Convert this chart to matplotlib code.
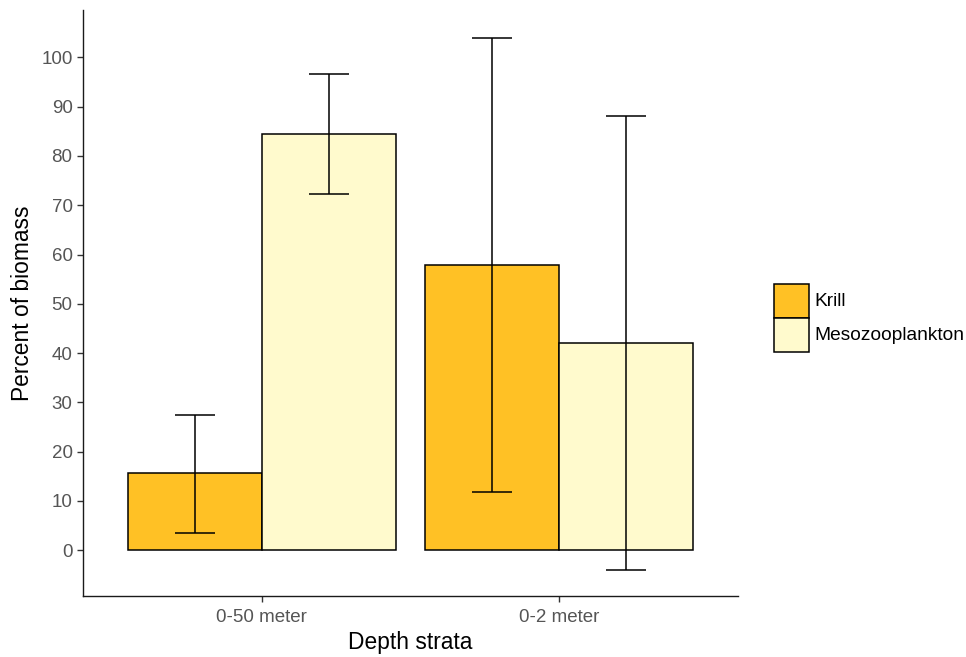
import matplotlib
matplotlib.use("Agg")
import matplotlib.pyplot as plt
from matplotlib.patches import Patch
import numpy as np

plt.rcParams["font.family"] = ["Liberation Sans", "DejaVu Sans"]

# Mean percent of biomass with lower/upper error limits
strata = ["0-50 meter", "0-2 meter"]
groups = ["Krill", "Mesozooplankton"]
krill_mean = [15.6, 57.9]
krill_low = [3.5, 11.8]
krill_high = [27.4, 104.0]
meso_mean = [84.4, 42.0]
meso_low = [72.3, -4.0]
meso_high = [96.6, 88.1]
colors = ["#FFC125", "#FFFACD"]
y_ticks = [0, 10, 20, 30, 40, 50, 60, 70, 80, 90, 100]

fig = plt.figure(figsize=(9.66, 6.57), dpi=100)
ax = fig.add_axes([0.0859, 0.0924, 0.764 - 0.0859, 0.9848 - 0.0924])

x = np.arange(1, len(strata) + 1)
bw = 0.45
series = [(krill_mean, krill_low, krill_high), (meso_mean, meso_low, meso_high)]
for i, (mean, low, high) in enumerate(series):
    pos = x + (i - 0.5) * bw
    ax.bar(pos, mean, width=bw, color=colors[i], edgecolor="black",
           linewidth=1.1, zorder=2)
    mean = np.array(mean); low = np.array(low); high = np.array(high)
    ax.errorbar(pos, mean, yerr=[mean - low, high - mean], fmt="none",
                ecolor="black", elinewidth=1.1, capsize=14.5, capthick=1.1,
                zorder=3)

ax.set_xlim(0.4, 2.6)
ax.set_ylim(-9.33, 109.6)
ax.set_xticks(x)
ax.set_xticklabels(strata)
ax.set_yticks(y_ticks)
ax.set_yticklabels([str(t) for t in y_ticks])

for s in ["top", "right"]:
    ax.spines[s].set_visible(False)
for s in ["left", "bottom"]:
    ax.spines[s].set_color("#1a1a1a")
    ax.spines[s].set_linewidth(1.0)

ax.tick_params(axis="both", length=4.5, width=1.0, color="#333333",
               labelsize=13.5, labelcolor="#555555")
ax.tick_params(axis="x", pad=5)
ax.tick_params(axis="y", pad=3)
ax.set_xlabel("Depth strata", fontsize=16.4, color="black", labelpad=3)
ax.set_ylabel("Percent of biomass", fontsize=16.4, color="black", labelpad=5)

handles = [Patch(facecolor=colors[i], edgecolor="black", linewidth=1.1,
                 label=groups[i]) for i in range(2)]
fig.legend(handles=handles, loc="center left",
           bbox_to_anchor=(0.801, 0.5167), frameon=False, fontsize=13.8,
           handlelength=1.83, handleheight=2.35, labelspacing=0,
           handletextpad=0.3, borderpad=0, borderaxespad=0)

fig.savefig("out.png", dpi=100)
